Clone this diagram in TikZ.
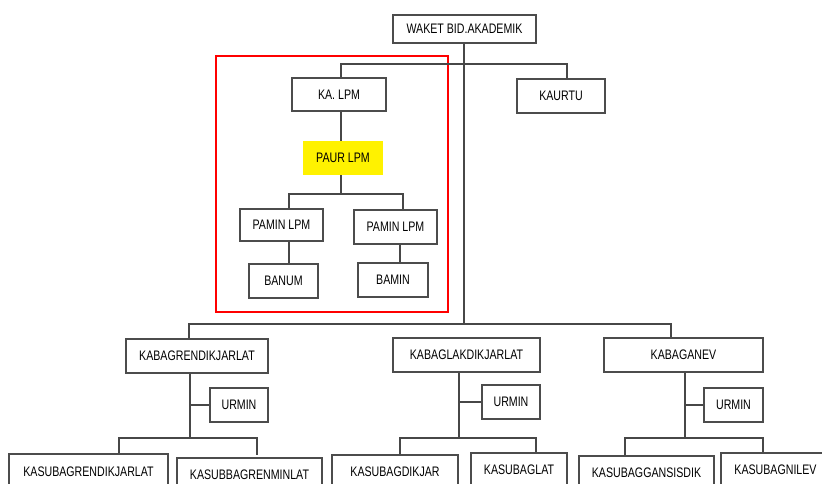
\documentclass[tikz,border=0pt]{standalone}
\usepackage{fontspec}
\setmainfont{Liberation Sans}[FakeStretch=0.77]
\begin{document}
\begin{tikzpicture}[x=1pt,y=-1pt,
  box/.style={draw=black!70,line width=1.3pt,fill=white,inner sep=0pt,
    font=\fontsize{13.8}{15}\selectfont,text=black},
  hilite/.style={fill=yellow,inner sep=0pt,font=\fontsize{13.8}{15}\selectfont},
  link/.style={draw=black!72,line width=1.1pt},
  frame/.style={draw=red,line width=2.2pt}]
\useasboundingbox (0,0) rectangle (822,484);
\clip (0,0) rectangle (822,484);

% head of the unit and its direct staff
\node[box,minimum width=143pt,minimum height=28pt] (waket) at (464.5,29) {WAKET BID.AKADEMIK};
\node[box,minimum width=94pt,minimum height=33pt] (kalpm) at (339,94.5) {KA. LPM};
\node[box,minimum width=88pt,minimum height=34pt] (kaurtu) at (561,96) {KAURTU};

% LPM group
\node[hilite,minimum width=80pt,minimum height=34pt] (paur) at (343,158) {PAUR LPM};
\node[box,minimum width=83pt,minimum height=32pt] (pamina) at (281.5,225) {PAMIN LPM};
\node[box,minimum width=83pt,minimum height=34pt] (paminb) at (395.5,227) {PAMIN LPM};
\node[box,minimum width=69pt,minimum height=34pt] (banum) at (283.5,281) {BANUM};
\node[box,minimum width=70pt,minimum height=34pt] (bamin) at (393,280) {BAMIN};
\draw[frame] (216,56) rectangle (448,312);

% departments
\node[box,minimum width=142pt,minimum height=34pt] (renbag) at (197,356) {KABAGRENDIKJARLAT};
\node[box,minimum width=147pt,minimum height=34pt] (lakbag) at (466.5,355) {KABAGLAKDIKJARLAT};
\node[box,minimum width=159pt,minimum height=34pt] (evbag) at (683.5,355) {KABAGANEV};
\node[box,minimum width=58pt,minimum height=34pt] (urmina) at (239,405) {URMIN};
\node[box,minimum width=58pt,minimum height=34pt] (urminb) at (511,402) {URMIN};
\node[box,minimum width=59pt,minimum height=34pt] (urminc) at (733.5,405) {URMIN};

% sub-sections
\node[box,minimum width=159pt,minimum height=36pt] (ksrendik) at (88.5,472) {KASUBAGRENDIKJARLAT};
\node[box,minimum width=145pt,minimum height=34pt] (ksrenmin) at (249.5,475) {KASUBBAGRENMINLAT};
\node[box,minimum width=126pt,minimum height=34pt] (ksdikjar) at (395,472) {KASUBAGDIKJAR};
\node[box,minimum width=96pt,minimum height=34pt] (kslat) at (519,470) {KASUBAGLAT};
\node[box,minimum width=135pt,minimum height=34pt] (ksgans) at (646.5,473) {KASUBAGGANSISDIK};
\node[box,minimum width=109pt,minimum height=34pt] (ksnilev) at (775.5,470) {KASUBAGNILEV};

% bus lines
\coordinate (topbus) at (464,64);
\coordinate (lowbus) at (464,324);
\coordinate (lpmbus) at (341,194);
\coordinate (renbus) at (190,438);
\coordinate (lakbus) at (459,438);
\coordinate (evbus) at (685,438);

% main spine
\draw[link] (waket.south -| lowbus) -- (lowbus);
\draw[link] (kalpm.north -| 341,0) |- (topbus) -| (kaurtu.north -| 567,0);
\draw[link] (kalpm.south -| 341,0) -- (paur.north -| 341,0);
\draw[link] (paur.south -| lpmbus) -- (lpmbus);
\draw[link] (pamina.north -| 289,0) |- (lpmbus) -| (paminb.north -| 403,0);
\draw[link] (pamina.south -| 289,0) -- (banum.north -| 289,0);
\draw[link] (paminb.south -| 400,0) -- (bamin.north -| 400,0);

% department bus
\draw[link] (renbag.north -| 189,0) |- (lowbus) -| (evbag.north -| 671,0);

% department branches
\draw[link] (renbag.south -| renbus) -- (renbus);
\draw[link] (urmina.west -| renbus) -- (urmina.west);
\draw[link] (ksrendik.north -| 119,0) |- (renbus) -| (257,455);

\draw[link] (lakbag.south -| lakbus) -- (lakbus);
\draw[link] (urminb.west -| lakbus) -- (urminb.west);
\draw[link] (ksdikjar.north -| 400,0) |- (lakbus) -| (kslat.north -| 536,0);

\draw[link] (evbag.south -| evbus) -- (evbus);
\draw[link] (urminc.west -| evbus) -- (urminc.west);
\draw[link] (ksgans.north -| 625,0) |- (evbus) -| (ksnilev.north -| 763,0);
\end{tikzpicture}
\end{document}
